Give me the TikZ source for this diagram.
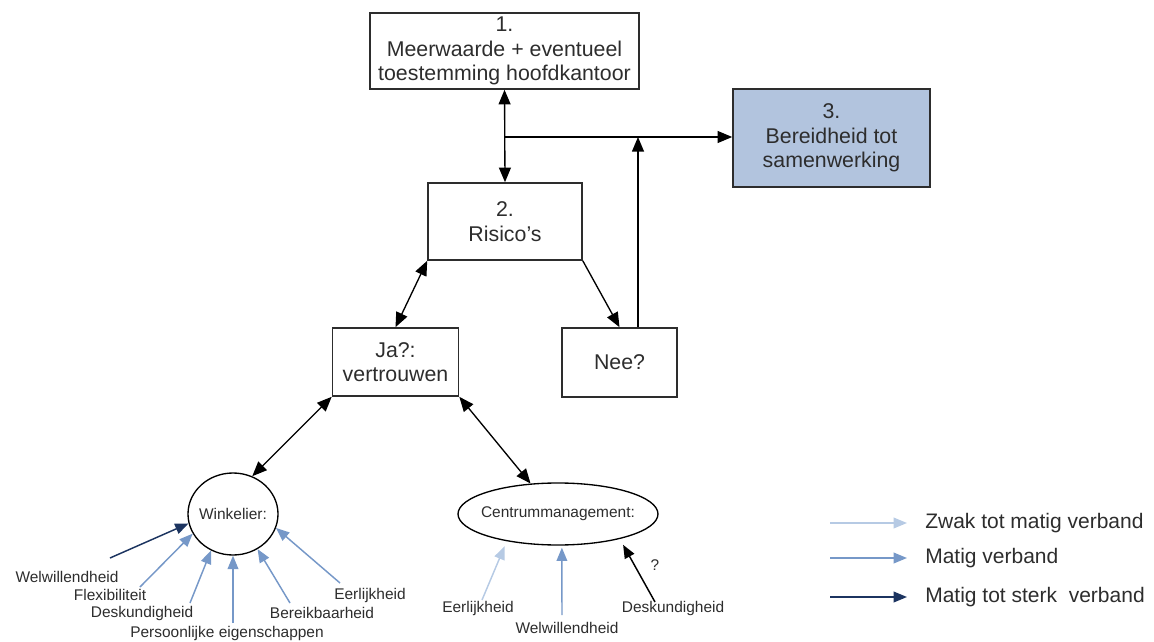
\documentclass[tikz,border=0pt]{standalone}
\usepackage{fontspec}
\setmainfont{Liberation Sans}
\usetikzlibrary{arrows.meta,shapes.geometric}

\definecolor{boxblue}{RGB}{178,196,222}
\definecolor{weak}{RGB}{182,202,228}
\definecolor{mid}{RGB}{118,152,200}
\definecolor{strong}{RGB}{28,52,96}
\definecolor{ink}{RGB}{45,45,45}

\begin{document}
\begin{tikzpicture}[x=0.75pt,y=-0.75pt,
  box/.style={draw=ink, line width=1.2pt, align=center, text=ink,
    font=\fontsize{16}{18.4}\selectfont, inner sep=0pt},
  oval/.style={ellipse, draw=black, line width=1pt, inner sep=0pt, text=ink,
    font=\fontsize{11.6}{14}\selectfont},
  lbl/.style={text=ink, font=\fontsize{11.6}{14}\selectfont, inner sep=0pt},
  leg/.style={text=ink, font=\fontsize{15.75}{18}\selectfont, anchor=west, inner sep=0pt},
  link/.style={line width=1pt, draw=black, -{Triangle[length=11pt,width=9pt]}},
  twoway/.style={link, {Triangle[length=11pt,width=9pt]}-{Triangle[length=11pt,width=9pt]}},
  pull/.style={line width=1.1pt, -{Triangle[length=10pt,width=8pt]}},
]
\useasboundingbox (0,0) rectangle (1154,642);

% main boxes
\node[box, minimum width=201.75pt, minimum height=57pt] (b1) at (504.5,51)
  {1.\\Meerwaarde + eventueel\\toestemming hoofdkantoor};
\node[box, fill=boxblue, minimum width=147.75pt, minimum height=73.5pt] (b3) at (831.5,138)
  {3.\\Bereidheid tot\\samenwerking};
\node[box, minimum width=115.5pt, minimum height=57.75pt] (b2) at (505,221.5)
  {2.\\Risico’s};
\node[box, minimum width=94.5pt, minimum height=51pt] (ja) at (395.5,362)
  {Ja?:\\vertrouwen};
\node[box, minimum width=86.25pt, minimum height=51.75pt] (nee) at (619.5,362.5)
  {Nee?};

% the two parties
\node[oval, minimum width=67.5pt, minimum height=61.5pt] (w) at (233,514)
  {\makebox[0pt]{Winkelier:}};
\node[oval, minimum width=150pt, minimum height=46.5pt] (c) at (558,514)
  {\makebox[0pt]{Centrummanagement:}};

% flow between the boxes
\coordinate (tee) at (505,137);
\coordinate (rise) at (638,137);
\draw[twoway] (b1.south) -- (b2.north);
\draw[link] (tee) -- (b3.west |- tee);
\draw[link] (nee.north -| rise) -- (rise);
\draw[twoway] (b2.south west) -- (ja.north);
\draw[link] (b2.south east) -- (nee.north);
\draw[twoway] (ja.south west) -- (w.63);
\draw[twoway] (ja.south east) -- (c.132);

% factors of the retailer
\node[lbl] (wa) at (67,577) {Welwillendheid};
\node[lbl] (wb) at (110,595) {Flexibiliteit};
\node[lbl] (wc) at (142,613) {Deskundigheid};
\node[lbl] (wd) at (227,633) {Persoonlijke eigenschappen};
\node[lbl] (we) at (322,613) {Bereikbaarheid};
\node[lbl] (wf) at (370,595) {Eerlijkheid};
\coordinate (sa) at (110,558);
\coordinate (sb) at (140,587);
\coordinate (sc) at (190,603);
\coordinate (sd) at (233,623);
\coordinate (se) at (290,603);
\coordinate (sf) at (340,583);
\draw[pull, strong] (sa) -- (w.192);
\draw[pull, mid] (sb) -- (w.206);
\draw[pull, mid] (sc) -- (w.239);
\draw[pull, mid] (sd) -- (w.270);
\draw[pull, mid] (se) -- (w.305);
\draw[pull, mid] (sf) -- (w.342);

% factors of the centre management
\node[lbl] (ca) at (478,608) {Eerlijkheid};
\node[lbl] (cb) at (567,628) {Welwillendheid};
\node[lbl] (cc) at (673,608) {Deskundigheid};
\node[lbl] (cq) at (655,565) {?};
\coordinate (ta) at (482,600);
\coordinate (tb) at (562,615);
\coordinate (tc) at (655,602);
\draw[pull, weak, shorten >=4pt] (ta) -- (c.208);
\draw[pull, mid, shorten >=1.5pt] (tb) -- (c.277);
\draw[pull, black, shorten >=5pt] (tc) -- (c.338);

% legend
\coordinate (l1a) at (830,523); \coordinate (l1b) at (907,523);
\coordinate (l2a) at (830,558); \coordinate (l2b) at (907,558);
\coordinate (l3a) at (830,597); \coordinate (l3b) at (907,597);
\draw[pull, weak] (l1a) -- (l1b);
\draw[pull, mid] (l2a) -- (l2b);
\draw[pull, strong] (l3a) -- (l3b);
\node[leg] (k1) at (925,523) {Zwak tot matig verband};
\node[leg] (k2) at (925,558) {Matig verband};
\node[leg] (k3) at (925,597) {Matig tot sterk\ \ verband};
\end{tikzpicture}
\end{document}
